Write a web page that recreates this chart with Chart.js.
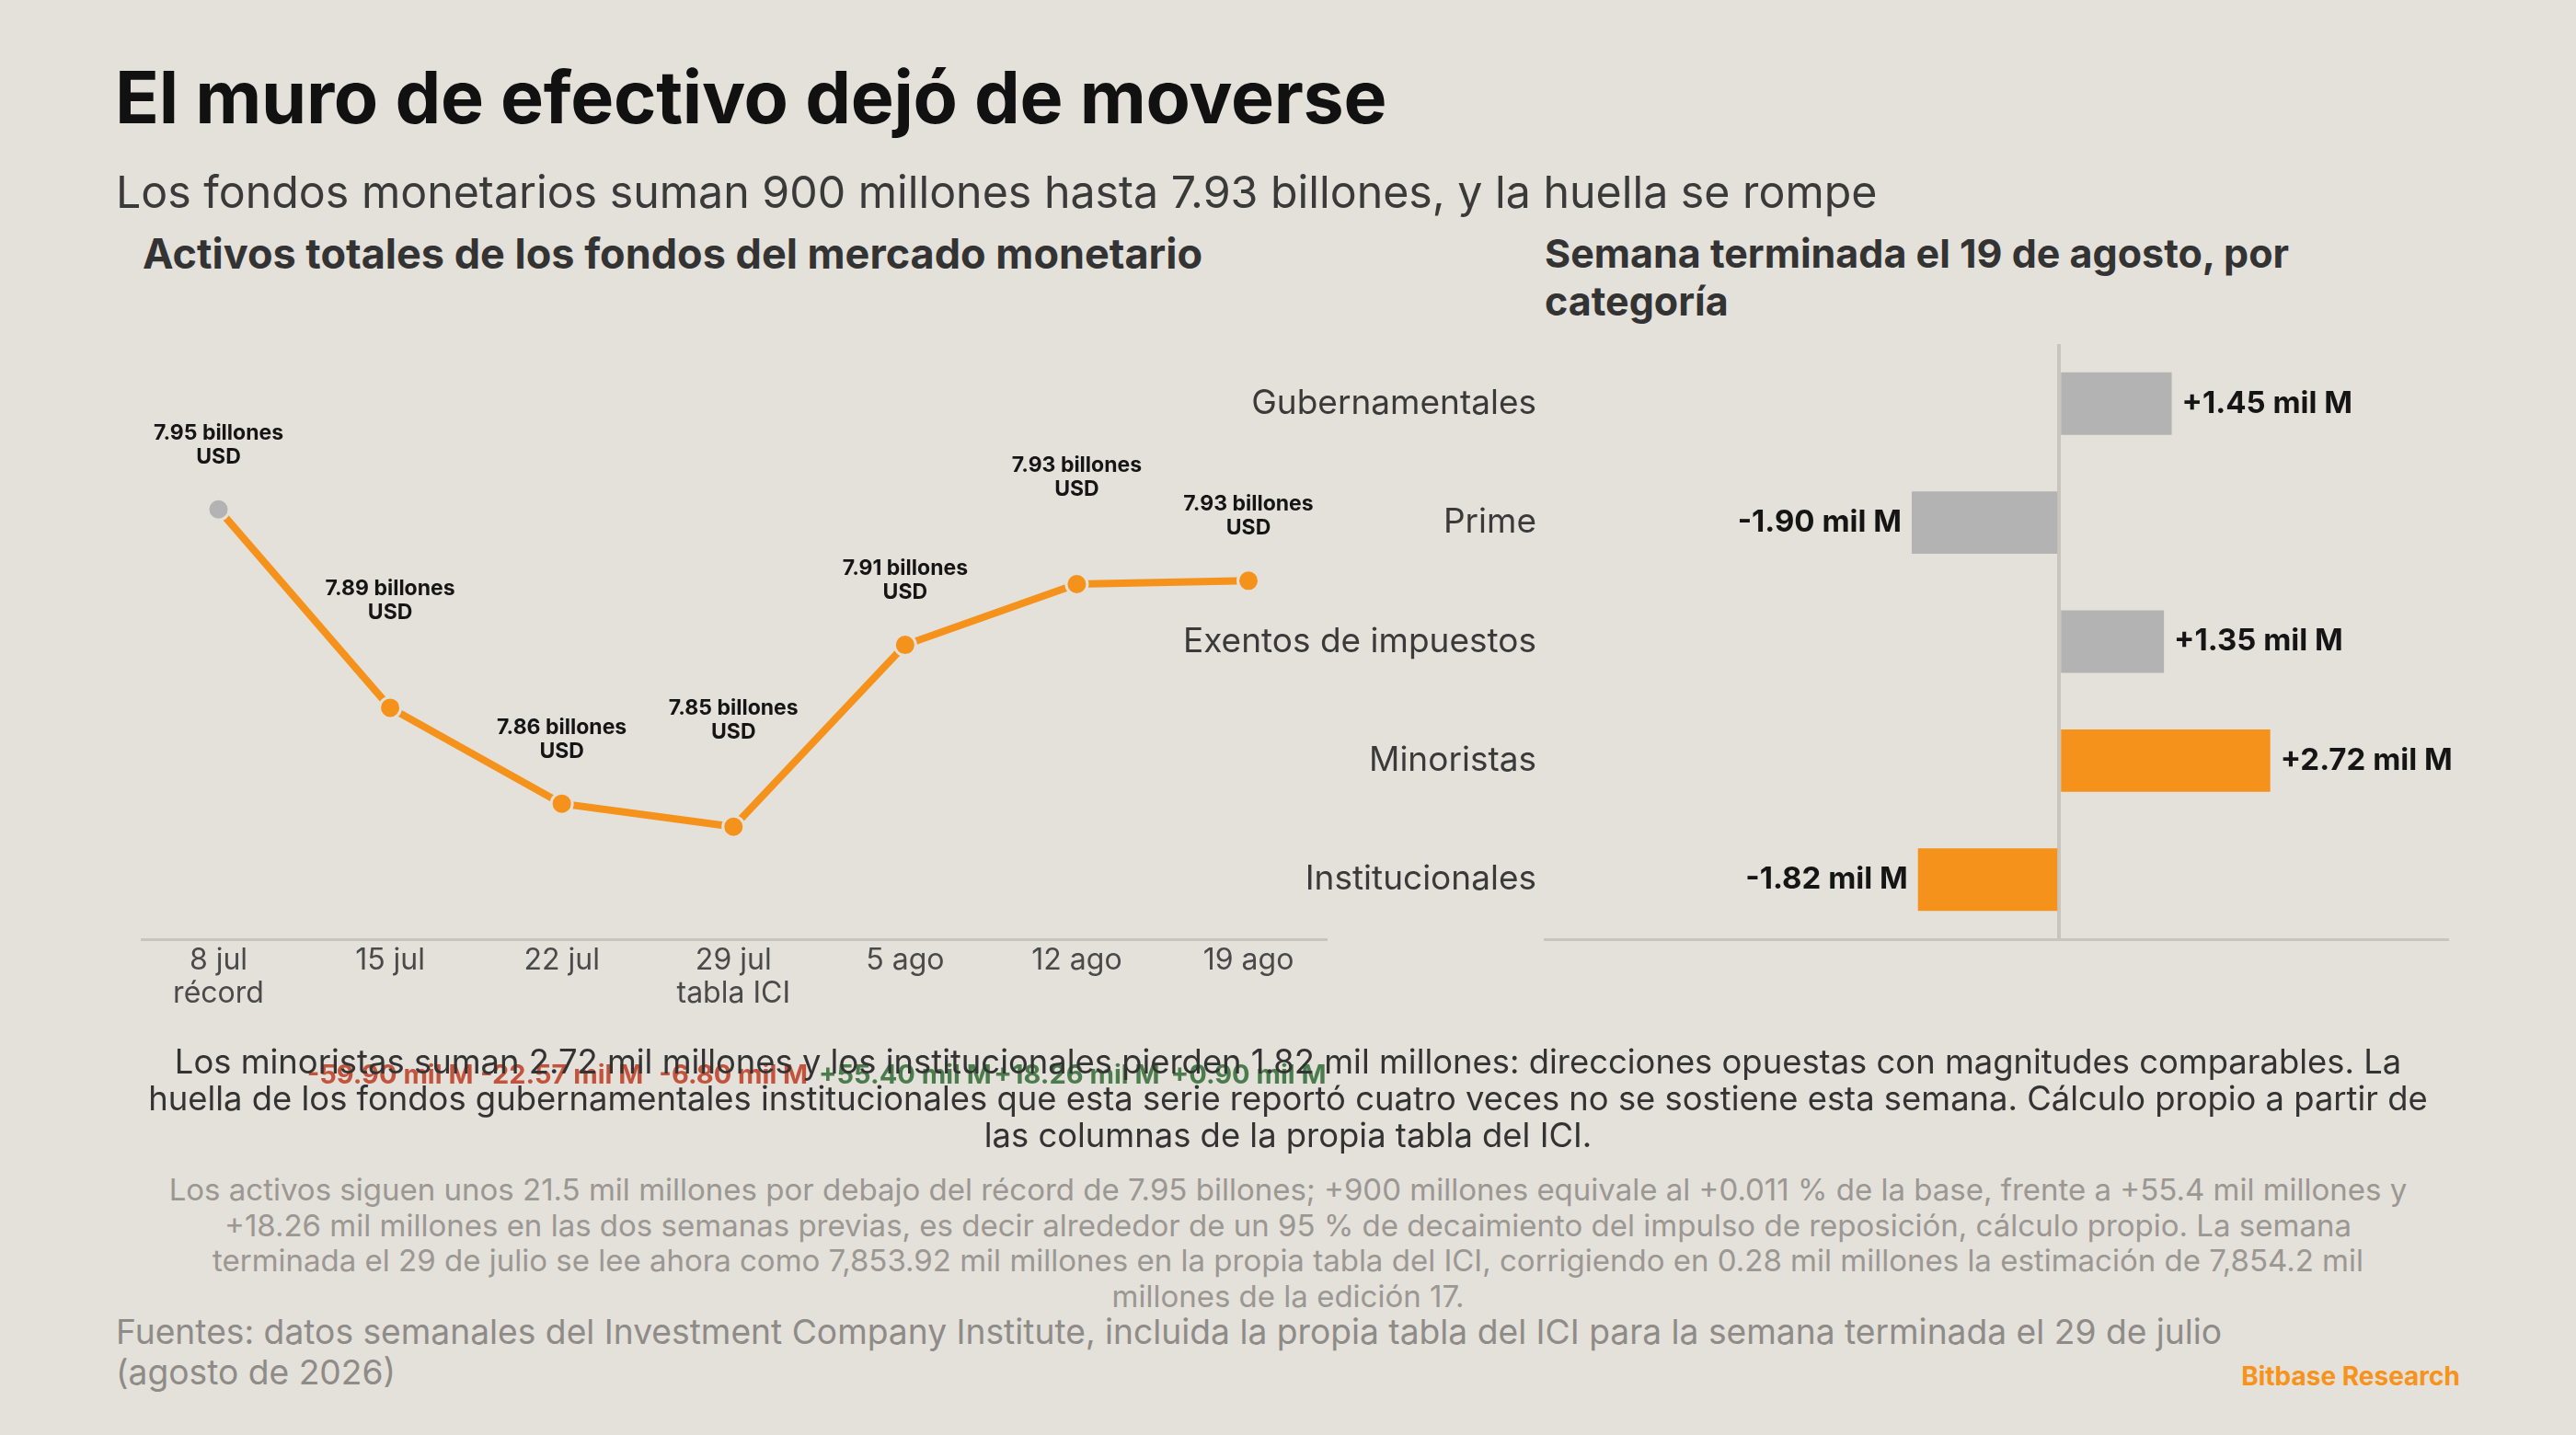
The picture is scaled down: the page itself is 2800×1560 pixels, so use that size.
<!DOCTYPE html>
<html lang="es">
<head>
<meta charset="utf-8">
<script src="https://cdn.jsdelivr.net/npm/chart.js@4.4.1/dist/chart.umd.min.js"></script>
<style>
  html, body { margin:0; padding:0; }
  body { width:2800px; height:1560px; background:#E4E0DA; position:relative; overflow:hidden; font-family:'Inter','Open Sans',sans-serif; }
  .abs { position:absolute; white-space:nowrap; }
  #title { left:125px; top:66px; font-size:79px; line-height:1; font-weight:700; color:#111; letter-spacing:-0.3px; }
  #subtitle { left:126px; top:185px; font-size:48.3px; line-height:1; font-weight:400; color:#3a3a3a; }
  #ltitle { left:155px; top:253px; font-size:45px; line-height:1; font-weight:700; color:#333; }
  #rtitle { left:1679px; top:249px; font-size:43px; line-height:52px; font-weight:700; color:#333; }
  #p1 { left:100px; width:2600px; top:1134px; font-size:36.4px; line-height:40px; color:#333; text-align:center; }
  #p2 { left:100px; width:2600px; top:1274px; font-size:33px; line-height:38.5px; color:#9b9793; text-align:center; }
  #src { left:126px; top:1426px; font-size:37.2px; line-height:44px; color:#8e8b88; }
  #brand { right:126px; top:1482px; font-size:28px; line-height:1; font-weight:700; color:#F7931A; }
  #lineWrap { position:absolute; left:0; top:300px; width:1500px; height:901px; }
  #barWrap { position:absolute; left:1250px; top:300px; width:1450px; height:760px; }
</style>
</head>
<body>
<div class="abs" id="title">El muro de efectivo dejó de moverse</div>
<div class="abs" id="subtitle">Los fondos monetarios suman 900 millones hasta 7.93 billones, y la huella se rompe</div>
<div class="abs" id="ltitle">Activos totales de los fondos del mercado monetario</div>
<div class="abs" id="rtitle">Semana terminada el 19 de agosto, por<br>categoría</div>

<div id="lineWrap"><canvas id="lineChart"></canvas></div>
<div id="barWrap"><canvas id="barChart"></canvas></div>

<div class="abs" id="p1">Los minoristas suman 2.72 mil millones y los institucionales pierden 1.82 mil millones: direcciones opuestas con magnitudes comparables. La<br>huella de los fondos gubernamentales institucionales que esta serie reportó cuatro veces no se sostiene esta semana. Cálculo propio a partir de<br>las columnas de la propia tabla del ICI.</div>
<div class="abs" id="p2">Los activos siguen unos 21.5 mil millones por debajo del récord de 7.95 billones; +900 millones equivale al +0.011 % de la base, frente a +55.4 mil millones y<br>+18.26 mil millones en las dos semanas previas, es decir alrededor de un 95 % de decaimiento del impulso de reposición, cálculo propio. La semana<br>terminada el 29 de julio se lee ahora como 7,853.92 mil millones en la propia tabla del ICI, corrigiendo en 0.28 mil millones la estimación de 7,854.2 mil<br>millones de la edición 17.</div>
<div class="abs" id="src">Fuentes: datos semanales del Investment Company Institute, incluida la propia tabla del ICI para la semana terminada el 29 de julio<br>(agosto de 2026)</div>
<div class="abs" id="brand">Bitbase Research</div>

<script>
// ---- Data: line chart (total assets, billones USD) ----
const weekLabels = [["8 jul","récord"],["15 jul"],["22 jul"],["29 jul","tabla ICI"],["5 ago"],["12 ago"],["19 ago"]];
const totalAssets = [7.950, 7.890, 7.861, 7.854, 7.909, 7.9274, 7.9284];
const pointLabels = ["7.95 billones","7.89 billones","7.86 billones","7.85 billones","7.91 billones","7.93 billones","7.93 billones"];
const weeklyChanges = [null, "-59.90 mil M", "-22.57 mil M", "-6.80 mil M", "+55.40 mil M", "+18.26 mil M", "+0.90 mil M"];
const changeSign = [0, -1, -1, -1, 1, 1, 1];

// ---- Data: bar chart (weekly change by category, mil M) ----
const categories = ["Gubernamentales","Prime","Exentos de impuestos","Minoristas","Institucionales"];
const categoryChange = [1.45, -1.90, 1.35, 2.72, -1.82];
const categoryHighlight = [false, false, false, true, true];

const ORANGE = '#F5921B';
const GREY = '#B3B3B3';
const BG = '#E4E0DA';
const AXIS = '#C9C4BE';
const FONT = "'Inter','Open Sans',sans-serif";

Chart.defaults.font.family = FONT;
Chart.defaults.animation = false;

const lineLabelPlugin = {
  id: 'lineLabels',
  afterDatasetsDraw(chart) {
    const ctx = chart.ctx;
    const meta = chart.getDatasetMeta(0);
    ctx.save();
    ctx.textAlign = 'center';
    ctx.textBaseline = 'middle';
    meta.data.forEach((pt, i) => {
      const off = (i % 2 === 0) ? 57 : 103;
      ctx.fillStyle = '#151515';
      ctx.font = `700 23px ${FONT}`;
      ctx.fillText(pointLabels[i], pt.x, pt.y - off - 26);
      ctx.fillText('USD', pt.x, pt.y - off);
      if (weeklyChanges[i]) {
        ctx.font = `700 29px ${FONT}`;
        ctx.fillStyle = changeSign[i] < 0 ? '#C4533D' : '#4B7C4C';
        ctx.fillText(weeklyChanges[i], pt.x, chart.chartArea.bottom + 148);
      }
    });
    ctx.restore();
  }
};

new Chart(document.getElementById('lineChart'), {
  type: 'line',
  data: {
    datasets: [{
      data: totalAssets.map((v, i) => ({ x: i, y: v })),
      borderColor: ORANGE,
      borderWidth: 8,
      tension: 0,
      pointRadius: 11.5,
      pointBorderWidth: 3,
      pointBorderColor: BG,
      pointBackgroundColor: totalAssets.map((v, i) => i === 0 ? GREY : ORANGE),
      clip: false
    }]
  },
  options: {
    responsive: true,
    maintainAspectRatio: false,
    layout: { padding: { left: 154, right: 58, top: 74, bottom: 0 } },
    plugins: { legend: { display: false }, tooltip: { enabled: false } },
    events: [],
    scales: {
      x: {
        type: 'linear',
        min: -0.4475,
        max: 6.4555,
        afterFit(scale) { scale.height = 180; },
        afterBuildTicks(scale) { scale.ticks = weekLabels.map((l, i) => ({ value: i })); },
        grid: { display: false, drawTicks: false },
        border: { display: true, color: AXIS, width: 3 },
        ticks: {
          padding: 5,
          color: '#4a4a4a',
          font: { size: 32, lineHeight: 1.125 },
          maxRotation: 0,
          autoSkip: false,
          callback(value) { return weekLabels[value]; }
        }
      },
      y: {
        display: false,
        min: 7.82,
        max: 8.00
      }
    }
  },
  plugins: [lineLabelPlugin]
});

const barLabelPlugin = {
  id: 'barLabels',
  afterDatasetsDraw(chart) {
    const ctx = chart.ctx;
    const meta = chart.getDatasetMeta(0);
    ctx.save();
    ctx.font = `700 33px ${FONT}`;
    ctx.fillStyle = '#151515';
    ctx.textBaseline = 'middle';
    meta.data.forEach((bar, i) => {
      const v = categoryChange[i];
      const txt = (v > 0 ? '+' : '-') + Math.abs(v).toFixed(2) + ' mil M';
      if (v >= 0) { ctx.textAlign = 'left'; ctx.fillText(txt, bar.x + 11, bar.y); }
      else { ctx.textAlign = 'right'; ctx.fillText(txt, bar.x - 11, bar.y); }
    });
    ctx.restore();
  }
};

new Chart(document.getElementById('barChart'), {
  type: 'bar',
  data: {
    labels: categories,
    datasets: [{
      data: categoryChange,
      backgroundColor: categoryHighlight.map(h => h ? ORANGE : GREY),
      borderWidth: 0,
      categoryPercentage: 1,
      barPercentage: 0.525
    }]
  },
  options: {
    indexAxis: 'y',
    responsive: true,
    maintainAspectRatio: false,
    layout: { padding: { left: 0, right: 40, top: 74, bottom: 39 } },
    plugins: { legend: { display: false }, tooltip: { enabled: false } },
    events: [],
    scales: {
      x: {
        min: -6.63,
        max: 5.0,
        afterFit(scale) { scale.height = 0; },
        afterBuildTicks(scale) { scale.ticks = [{ value: 0 }]; },
        grid: { display: true, drawTicks: false, color: AXIS, lineWidth: 4 },
        border: { display: true, color: AXIS, width: 3 },
        ticks: { display: false }
      },
      y: {
        afterFit(scale) { scale.width = 429; },
        grid: { display: false, drawTicks: false },
        border: { display: false },
        ticks: { padding: 9, color: '#3a3a3a', font: { size: 37 } }
      }
    }
  },
  plugins: [barLabelPlugin]
});
</script>
</body>
</html>
